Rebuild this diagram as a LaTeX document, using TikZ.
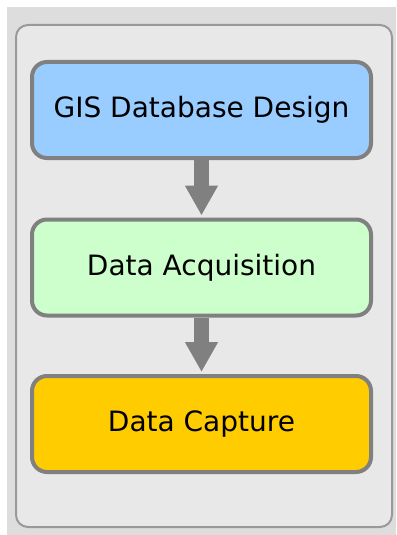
\documentclass[tikz,border=0pt]{standalone}
\usepackage{tikz}
\usepackage{fontspec}
\setmainfont{DejaVu Sans}
\usetikzlibrary{arrows.meta}

\definecolor{pagegray}{HTML}{DDDDDD}
\definecolor{panelgray}{HTML}{E8E8E8}
\definecolor{panelline}{HTML}{999999}
\definecolor{boxline}{HTML}{808080}
\definecolor{designblue}{HTML}{99CCFF}
\definecolor{acqgreen}{HTML}{CCFFCC}
\definecolor{captureyellow}{HTML}{FFCC00}

\tikzset{
  stagebox/.style={draw=boxline, line width=4, rounded corners=15,
    minimum width=339, minimum height=96, font=\fontsize{28}{32}\selectfont},
  flowarrow/.style={draw=boxline, line width=15,
    -{Triangle[width=31,length=30]}, shorten >=2}
}

\begin{document}
\begin{tikzpicture}[x=1pt,y=-1pt]

    \useasboundingbox (0,0) rectangle (396,535);

    % page background
    \fill[pagegray] (7,7) rectangle (396,535);

    % panel
    \draw[fill=panelgray, draw=panelline, line width=2, rounded corners=12] (16,25) rectangle (392,527);

    % database design
    \node[stagebox, fill=designblue] (design) at (201.5,110) {GIS Database Design};

    % acquisition
    \node[stagebox, fill=acqgreen] (acquisition) at (201.5,267.5) {Data Acquisition};

    % capture
    \node[stagebox, fill=captureyellow] (capture) at (201.5,424) {Data Capture};

    % flow
    \draw[flowarrow] (design) to (acquisition);
    \draw[flowarrow] (acquisition) to (capture);

\end{tikzpicture}
\end{document}
